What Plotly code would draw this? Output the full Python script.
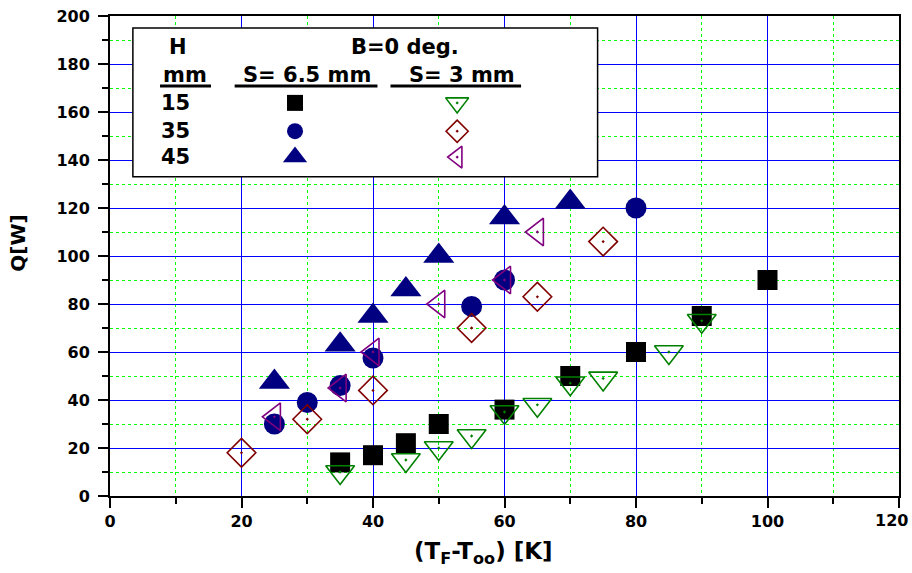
import plotly.graph_objects as go

# ---------------- data ----------------
x_h15_s65 = [35, 40, 45, 50, 60, 70, 80, 90, 100]
q_h15_s65 = [14, 17, 22, 30, 36, 50, 60, 75, 90]

x_h15_s3 = [35, 45, 50, 55, 60, 65, 70, 75, 85, 90]
q_h15_s3 = [10, 15, 20, 25, 35, 38, 47, 49, 60, 73]

x_h35_s65 = [25, 30, 35, 40, 55, 60, 80]
q_h35_s65 = [30, 39, 46, 57.5, 79, 90, 120]

x_h35_s3 = [20, 30, 40, 55, 65, 75]
q_h35_s3 = [18, 32, 44, 70, 83, 106]

x_h45_s65 = [25, 35, 40, 45, 50, 60, 70]
q_h45_s65 = [47.5, 63, 75, 86, 100, 116, 122.5]

x_h45_s3 = [25, 35, 40, 50, 60, 65]
q_h45_s3 = [33, 45, 60, 80, 90, 110]

x_ticks = [0, 20, 40, 60, 80, 100, 120]
y_ticks = [0, 20, 40, 60, 80, 100, 120, 140, 160, 180, 200]
h_labels = ["15", "35", "45"]

# ---------------- style ----------------
FONT = "DejaVu Sans"
XR = [0, 120]
YR = [0, 200]

styles = [
    dict(symbol="square", size=20, color="#000000", line=dict(width=0)),
    dict(symbol="triangle-down-open-dot", size=25, color="#008000", line=dict(width=1.6, color="#008000")),
    dict(symbol="circle", size=21, color="#000080", line=dict(width=0)),
    dict(symbol="diamond-open-dot", size=22, color="#800000", line=dict(width=1.6, color="#800000")),
    dict(symbol="triangle-up", size=27, color="#000080", line=dict(width=0)),
    dict(symbol="triangle-left-open-dot", size=24, color="#800080", line=dict(width=1.6, color="#800080")),
]

series = [
    (x_h15_s65, q_h15_s65, 0),
    (x_h35_s65, q_h35_s65, 2),
    (x_h45_s65, q_h45_s65, 4),
    (x_h15_s3, q_h15_s3, 1),
    (x_h35_s3, q_h35_s3, 3),
    (x_h45_s3, q_h45_s3, 5),
]

fig = go.Figure()
for xs, ys, si in series:
    fig.add_trace(go.Scatter(x=xs, y=ys, mode="markers", marker=styles[si],
                             showlegend=False, hoverinfo="skip"))


def px(f):
    return XR[0] + f * (XR[1] - XR[0])


def py(f):
    return YR[0] + f * (YR[1] - YR[0])


# ---- custom legend box (paper fractions) ----
box = dict(x0=0.029, x1=0.618, y0=0.665, y1=0.975)
fig.add_shape(type="rect", xref="x", yref="y", x0=px(box["x0"]), x1=px(box["x1"]),
              y0=py(box["y0"]), y1=py(box["y1"]), fillcolor="white",
              line=dict(color="black", width=1.5), layer="between")

row_y = [0.819, 0.760, 0.706]
col_x = [0.2345, 0.44]
leg_map = [[0, 1], [2, 3], [4, 5]]
for r in range(3):
    for c in range(2):
        st = dict(styles[leg_map[r][c]])
        st["size"] = round(st["size"] * 0.78)
        fig.add_trace(go.Scatter(x=[px(col_x[c])], y=[py(row_y[r])], mode="markers",
                                 marker=st, showlegend=False, hoverinfo="skip"))

LEGFONT = dict(family=FONT, size=21, color="black", weight="bold")
texts = [
    ("H", 0.086, 0.935),
    ("B=0 deg.", 0.374, 0.935),
    ("mm", 0.095, 0.877),
    ("S= 6.5 mm", 0.2497, 0.877),
    ("S= 3 mm", 0.446, 0.877),
]
for t, xf, yf in texts:
    fig.add_annotation(text=t, x=xf, y=yf, xref="paper", yref="paper", showarrow=False,
                       font=LEGFONT, xanchor="center", yanchor="middle")
for lab, yf in zip(h_labels, row_y):
    fig.add_annotation(text=lab, x=0.0824, y=yf, xref="paper", yref="paper", showarrow=False,
                       font=LEGFONT, xanchor="center", yanchor="middle")

underlines = [(0.0634, 0.128), (0.158, 0.339), (0.3555, 0.521)]
for x0, x1 in underlines:
    fig.add_shape(type="line", xref="paper", yref="paper", x0=x0, x1=x1, y0=0.854, y1=0.854,
                  line=dict(color="black", width=3))

# ---- axis titles ----
fig.add_annotation(text="(T<sub>F</sub>-T<sub>oo</sub>) [K]", x=0.473, y=-0.119,
                   xref="paper", yref="paper", showarrow=False,
                   font=dict(family=FONT, size=23, color="black", weight="bold"),
                   xanchor="center", yanchor="middle")
fig.add_annotation(text="Q[W]", x=-0.117, y=0.527, xref="paper", yref="paper",
                   showarrow=False, textangle=-90,
                   font=dict(family=FONT, size=20, color="black", weight="bold"),
                   xanchor="center", yanchor="middle")

TICKFONT = dict(family=FONT, size=16, color="black", weight="bold")

# the last x tick label sits at the page edge; draw it right-aligned so it is not clipped
x_ticktext = [str(v) for v in x_ticks]
last_label = x_ticktext[-1]
x_ticktext[-1] = ""
fig.add_annotation(text=last_label, x=1.0145, y=-0.052, xref="paper", yref="paper",
                   showarrow=False, font=TICKFONT, xanchor="right", yanchor="middle")

axis_common = dict(
    showline=True, linecolor="black", linewidth=2, mirror=True,
    ticks="outside", ticklen=10, tickwidth=2, tickcolor="black",
    showgrid=True, gridcolor="#0000FF", gridwidth=1,
    zeroline=False, automargin=False,
    tickfont=TICKFONT,
)

fig.update_xaxes(range=XR, tickvals=x_ticks, ticktext=x_ticktext,
                 minor=dict(dtick=10, showgrid=True, gridcolor="#00FF00", griddash="dot",
                            gridwidth=1, ticks="outside", ticklen=6, tickwidth=2,
                            tickcolor="black"),
                 **axis_common)
fig.update_yaxes(range=YR, tickvals=y_ticks, ticktext=[str(v) for v in y_ticks],
                 ticklabelstandoff=5,
                 minor=dict(dtick=10, showgrid=True, gridcolor="#00FF00", griddash="dot",
                            gridwidth=1, ticks="outside", ticklen=6, tickwidth=2,
                            tickcolor="black"),
                 **axis_common)

fig.update_layout(
    width=912, height=573,
    margin=dict(l=110, r=13, t=16, b=77),
    paper_bgcolor="white", plot_bgcolor="white",
    showlegend=False,
)

fig.write_html("out.html")
